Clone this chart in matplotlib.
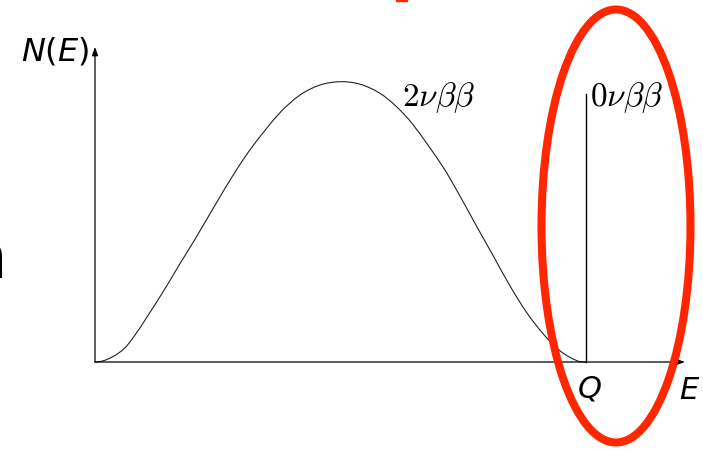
import matplotlib
matplotlib.use("Agg")
import matplotlib.pyplot as plt
from matplotlib.patches import Ellipse, Rectangle, PathPatch
from matplotlib.path import Path
import numpy as np

energy = [0.0, 0.034, 0.0678, 0.136, 0.170, 0.204, 0.244, 0.285, 0.322, 0.377,
          0.418, 0.458, 0.499, 0.540, 0.580, 0.614, 0.648, 0.709, 0.743,
          0.777, 0.811, 0.845, 0.879, 0.913, 0.947, 0.981, 1.0]
counts = [0.0, 0.017, 0.064, 0.243, 0.342, 0.439, 0.558, 0.677, 0.772, 0.890,
          0.953, 0.988, 1.0, 0.991, 0.959, 0.911, 0.846, 0.695, 0.593,
          0.485, 0.379, 0.272, 0.177, 0.100, 0.040, 0.005, 0.0]
q_value = 1.0
peak_0nu = 0.956

W, H = 703, 452
fig = plt.figure(figsize=(W / 100, H / 100), dpi=100)
ax = fig.add_axes([0, 0, 1, 1])
ax.set_xlim(-95 / 491, (W - 95) / 491)
ax.set_ylim(-(H - 363) / 280.3, 363 / 280.3)
ax.axis("off")

# axes with arrow heads
arrow = dict(arrowstyle="-|>,head_length=0.5,head_width=0.18", color="black", lw=0.9,
             shrinkA=0, shrinkB=0)
ax.annotate("", xy=(0, 1.124), xytext=(0, 0), arrowprops=arrow)
ax.annotate("", xy=(1.2016, 0), xytext=(0, 0), arrowprops=arrow)


def smooth_path(xs, ys):
    # cubic Hermite curve through the points, slopes from neighbouring points
    x = np.asarray(xs, float)
    y = np.asarray(ys, float)
    m = np.empty_like(y)
    m[1:-1] = (y[2:] - y[:-2]) / (x[2:] - x[:-2])
    m[0], m[-1] = 0.0, 0.0
    verts = [(x[0], y[0])]
    codes = [Path.MOVETO]
    for i in range(len(x) - 1):
        h = x[i + 1] - x[i]
        verts += [(x[i] + h / 3, y[i] + m[i] * h / 3),
                  (x[i + 1] - h / 3, y[i + 1] - m[i + 1] * h / 3),
                  (x[i + 1], y[i + 1])]
        codes += [Path.CURVE4] * 3
    return Path(verts, codes)


ax.add_patch(PathPatch(smooth_path(energy, counts), fill=False,
                       edgecolor="#222222", lw=0.8))
ax.plot([q_value, q_value], [0, peak_0nu], color="black", lw=1.0)

ax.text(-0.012, 1.11, r"$N(E)$", fontsize=23, ha="right", va="center",
        math_fontfamily="dejavusans")
ax.text(q_value + 0.006, -0.04, r"$Q$", fontsize=22, ha="center", va="top",
        math_fontfamily="dejavusans")
ax.text(1.212, -0.045, r"$E$", fontsize=22, ha="center", va="top",
        math_fontfamily="dejavusans")
ax.text(0.625, 0.918, r"$2\nu\beta\beta$", fontsize=24, ha="left", va="baseline",
        math_fontfamily="cm")
ax.text(q_value + 0.008, 0.918, r"$0\nu\beta\beta$", fontsize=24, ha="left",
        va="baseline", math_fontfamily="cm")

# red ring around the Q-value region
fig.patches.append(Ellipse((616 / 100, (H - 227) / 100), 1.49, 4.33, fill=False,
                           edgecolor="#ff2600", lw=5.8, transform=fig.dpi_scale_trans))
fig.patches.append(Rectangle((396 / 100, (H - 2) / 100), 0.11, 0.03, color="#ff2600",
                             transform=fig.dpi_scale_trans))
fig.text(-34 / W, (H - 278) / H, "n", fontsize=46, ha="left", va="baseline")

fig.savefig("out.png", dpi=100)
